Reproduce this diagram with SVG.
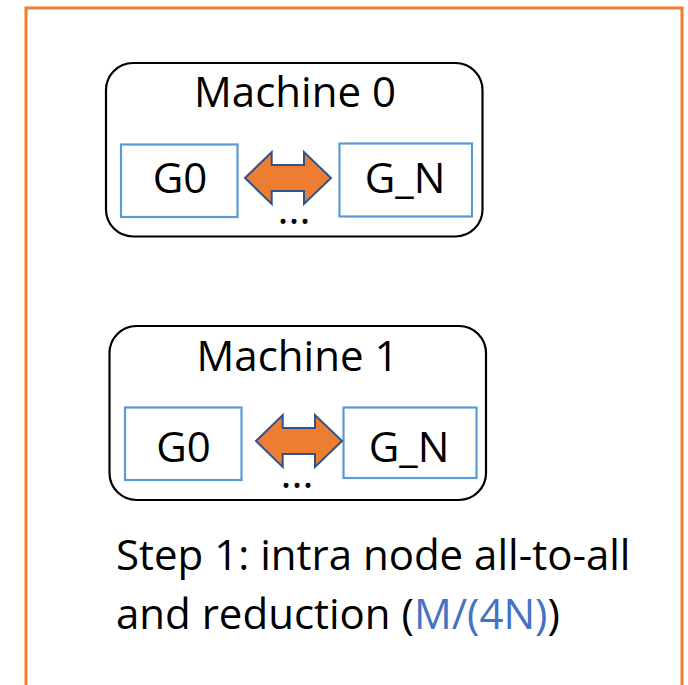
<svg xmlns="http://www.w3.org/2000/svg" width="688" height="685" viewBox="0 0 688 685">
  <style>
    .frame { fill: none; stroke: #ED7D31; stroke-width: 3; }
    .machine { fill: #FFFFFF; stroke: #000000; stroke-width: 2.2; }
    .gpu { fill: #FFFFFF; stroke: #5B9BD5; stroke-width: 2.2; }
    .link { fill: #ED7D31; stroke: #2F528F; stroke-width: 2; stroke-linejoin: miter; }
    text { font-family: "Open Sans", "Liberation Sans", sans-serif; font-size: 42px; fill: #000000; }
    .mid { text-anchor: middle; }
    .hl { fill: #4472C4; }
  </style>
  <defs>
    <!-- double-headed block arrow, left tip at origin -->
    <path id="dbl-arrow" d="M0,0 L26.7,-26 L26.7,-13 L59,-13 L59,-26 L86,0 L59,26 L59,13 L26.7,13 L26.7,26 Z"/>
  </defs>

  <rect class="frame" x="26" y="8" width="656" height="700"/>

  <g id="machine0">
    <rect class="machine" x="106" y="63" width="376.5" height="173.5" rx="27" ry="27"/>
    <text class="mid" x="295" y="107">Machine 0</text>
  </g>
  <g id="m0-g0">
    <rect class="gpu" x="121" y="144.5" width="116.5" height="72.5"/>
    <text class="mid" x="180" y="193">G0</text>
  </g>
  <g id="m0-gn">
    <rect class="gpu" x="339.5" y="143.5" width="132.5" height="73"/>
    <text class="mid" x="405" y="193">G_N</text>
  </g>

  <g id="machine1">
    <rect class="machine" x="109.5" y="326" width="376.5" height="174" rx="27" ry="27"/>
    <text class="mid" x="297.5" y="371">Machine 1</text>
  </g>
  <g id="m1-g0">
    <rect class="gpu" x="125" y="407.5" width="116.5" height="72.5"/>
    <text class="mid" x="183.5" y="462">G0</text>
  </g>
  <g id="m1-gn">
    <rect class="gpu" x="343.5" y="407.5" width="133" height="70.5"/>
    <text class="mid" x="409" y="462">G_N</text>
  </g>

  <g id="connectors">
    <use href="#dbl-arrow" class="link" x="245" y="178"/>
    <text class="mid" x="294" y="224">...</text>
    <use href="#dbl-arrow" class="link" x="256" y="441"/>
    <text class="mid" x="297" y="488">...</text>
  </g>

  <g id="caption">
    <text x="116" y="570">Step 1: intra node all-to-all</text>
    <text x="116" y="629">and reduction (<tspan class="hl">M/(4N)</tspan>)</text>
  </g>
</svg>
